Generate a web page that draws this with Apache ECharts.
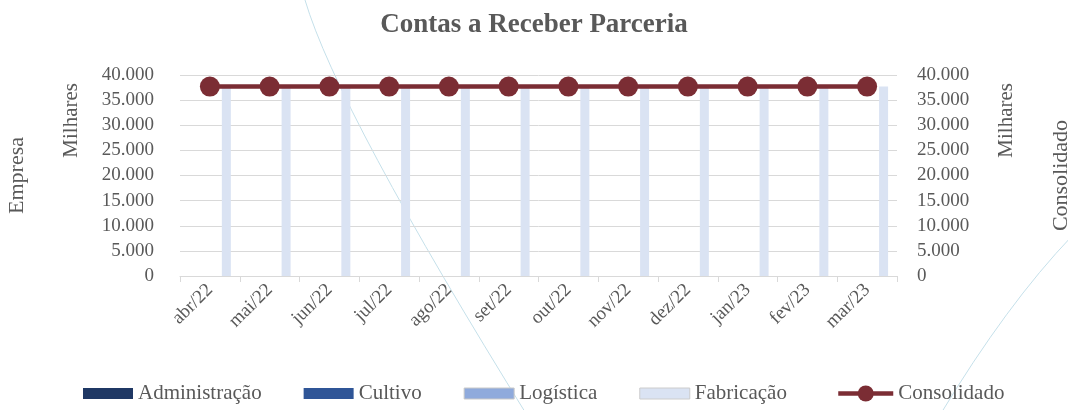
<!DOCTYPE html>
<html>
<head>
<meta charset="utf-8">
<script src="https://cdn.jsdelivr.net/npm/echarts@6/dist/echarts.min.js"></script>
<style>
  html, body { margin: 0; padding: 0; background: #fff; }
  #chart { width: 1068px; height: 410px; }
</style>
</head>
<body>
<div id="chart"></div>
<script>
// meses
var meses = ['abr/22', 'mai/22', 'jun/22', 'jul/22', 'ago/22', 'set/22',
             'out/22', 'nov/22', 'dez/22', 'jan/23', 'fev/23', 'mar/23'];

// valores em milhares
var administracao = [0, 0, 0, 0, 0, 0, 0, 0, 0, 0, 0, 0];
var cultivo       = [0, 0, 0, 0, 0, 0, 0, 0, 0, 0, 0, 0];
var logistica     = [0, 0, 0, 0, 0, 0, 0, 0, 0, 0, 0, 0];
var fabricacao    = [37700, 37700, 37700, 37700, 37700, 37700, 37700, 37700, 37700, 37700, 37700, 37700];
var consolidado   = [37700, 37700, 37700, 37700, 37700, 37700, 37700, 37700, 37700, 37700, 37700, 37700];

var fonte = '"Liberation Serif", "DejaVu Serif", serif';
var cinza = '#595959';

// separador de milhar com ponto
function milhar(v) {
    return String(v).replace(/\B(?=(\d{3})+(?!\d))/g, '.');
}

var eixoY = function (pos, nome) {
    return {
        type: 'value',
        position: pos,
        min: 0,
        max: 40000,
        interval: 5000,
        name: nome,
        nameLocation: 'middle',
        nameRotate: 90,
        nameGap: pos == 'left' ? 152 : 153,
        nameTextStyle: { fontFamily: fonte, fontSize: 22, color: cinza },
        axisLine: { show: false },
        axisTick: { show: false },
        axisLabel: {
            fontFamily: fonte, fontSize: 19, color: cinza,
            margin: pos == 'left' ? 26 : 20,
            formatter: milhar
        },
        splitLine: { show: pos == 'left', lineStyle: { color: '#d9d9d9', width: 1 } }
    };
};

var barra = function (nome, cor, dados) {
    return {
        name: nome,
        type: 'bar',
        yAxisIndex: 0,
        barWidth: 9,
        barGap: '22%',
        data: dados,
        itemStyle: { color: cor }
    };
};

var textoLegenda = { fontFamily: fonte, fontSize: 21, color: cinza };

var option = {
    animation: false,
    title: {
        text: 'Contas a Receber Parceria',
        left: 'center',
        top: 7,
        textStyle: { fontFamily: fonte, fontSize: 27, fontWeight: 'bold', color: cinza }
    },
    legend: [
        {
            left: 78,
            bottom: 1,
            icon: 'rect',
            itemWidth: 50,
            itemHeight: 11,
            itemGap: 42,
            textStyle: textoLegenda,
            data: [
                { name: 'Administração' },
                { name: 'Cultivo' },
                { name: 'Logística', itemStyle: { borderColor: '#c9c9c9', borderWidth: 1 } },
                { name: 'Fabricação', itemStyle: { borderColor: '#cccccc', borderWidth: 1 } }
            ]
        },
        {
            left: 831,
            bottom: 1,
            itemWidth: 55,
            itemHeight: 20,
            textStyle: textoLegenda,
            data: [{ name: 'Consolidado', lineStyle: { width: 4.5 } }]
        }
    ],
    grid: { left: 180, right: 171, top: 75, bottom: 134, outerBoundsMode: 'none' },
    xAxis: {
        type: 'category',
        data: meses,
        axisLine: { lineStyle: { color: '#d9d9d9' } },
        axisTick: { show: true, length: 6, lineStyle: { color: '#d9d9d9' } },
        axisLabel: {
            rotate: 45,
            margin: 11,
            fontFamily: fonte, fontSize: 19, color: cinza
        }
    },
    yAxis: [eixoY('left', 'Empresa'), eixoY('right', 'Consolidado')],
    graphic: [
        // linhas decorativas do fundo
        { type: 'bezierCurve', z: -1, silent: true,
          shape: { x1: 305, y1: 0, cpx1: 338, cpy1: 111, x2: 530, y2: 420 },
          style: { stroke: '#c5e0ea', lineWidth: 1, fill: null } },
        { type: 'bezierCurve', z: -1, silent: true,
          shape: { x1: 1072, y1: 236, cpx1: 1007, cpy1: 304, x2: 940, y2: 415 },
          style: { stroke: '#c5e0ea', lineWidth: 1, fill: null } },
        // unidade de exibição
        { type: 'text', left: 61, top: 83,
          rotation: Math.PI / 2,
          style: { text: 'Milhares', font: '21px ' + fonte, fill: cinza } },
        { type: 'text', left: 996, top: 83,
          rotation: Math.PI / 2,
          style: { text: 'Milhares', font: '21px ' + fonte, fill: cinza } }
    ],
    series: [
        barra('Administração', '#1f3864', administracao),
        barra('Cultivo', '#2f5597', cultivo),
        barra('Logística', '#8faadc', logistica),
        barra('Fabricação', '#dae3f3', fabricacao),
        {
            name: 'Consolidado',
            type: 'line',
            yAxisIndex: 1,
            data: consolidado,
            symbol: 'circle',
            symbolSize: 20,
            lineStyle: { color: '#7b2d34', width: 4.5 },
            itemStyle: { color: '#7b2d34' },
            z: 5
        }
    ]
};

var myChart = echarts.init(document.getElementById('chart'));
myChart.setOption(option);
</script>
</body>
</html>
